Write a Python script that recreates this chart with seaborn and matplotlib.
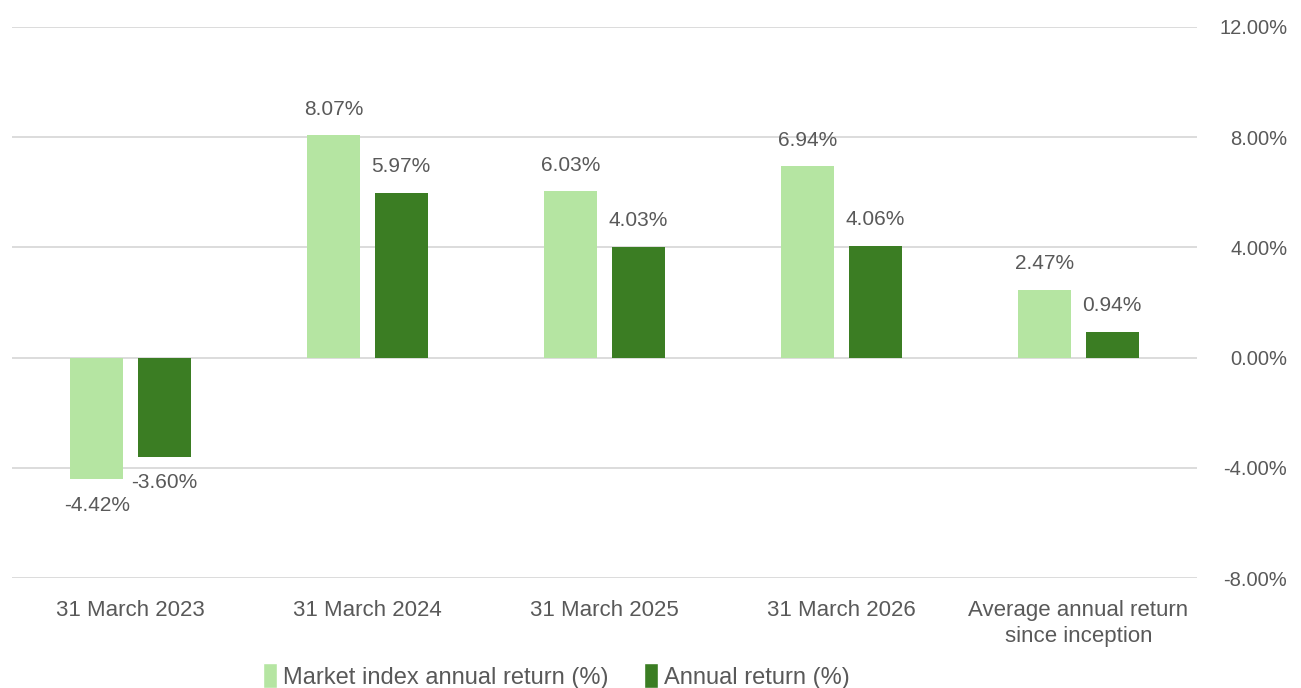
import pandas as pd
import matplotlib.pyplot as plt
import seaborn as sns
from matplotlib.patches import Patch

# chart data
categories = ["31 March 2023", "31 March 2024", "31 March 2025", "31 March 2026",
              "Average annual return\nsince inception"]
market_return = [-4.42, 8.07, 6.03, 6.94, 2.47]
annual_return = [-3.60, 5.97, 4.03, 4.06, 0.94]
series_names = ["Market index annual return (%)", "Annual return (%)"]
y_ticks = [-8, -4, 0, 4, 8, 12]

light_green = "#B5E5A2"
dark_green = "#3B7D23"
text_grey = "#595959"

sns.set_style("white")
plt.rcParams["font.family"] = ["Liberation Sans", "DejaVu Sans"]

df = pd.DataFrame({
    "category": categories * 2,
    "series": [series_names[0]] * len(categories) + [series_names[1]] * len(categories),
    "value": market_return + annual_return,
})

fig = plt.figure(figsize=(13.01, 6.88), dpi=100)
ax = fig.add_axes([12 / 1301, 1 - 578 / 688, 1185 / 1301, 551 / 688])

sns.barplot(data=df, x="category", y="value", hue="series", order=categories,
            hue_order=series_names, palette=[light_green, dark_green],
            width=0.57, gap=0.21, saturation=1, linewidth=0, legend=False, ax=ax)

# value labels: above positive bars, below negative ones
for cont in ax.containers:
    ax.bar_label(cont, labels=[f"{v:.2f}%" for v in cont.datavalues],
                 padding=12, fontsize=15, color=text_grey)

ax.set_ylim(-8, 12)
ax.set_xlim(-0.5, len(categories) - 0.5)
ax.set_yticks(y_ticks)
ax.set_yticklabels([f"{v:.2f}%" for v in y_ticks])
ax.yaxis.tick_right()
ax.grid(axis="y", color="#D9D9D9", linewidth=1.3)
ax.set_axisbelow(True)
for s in ax.spines.values():
    s.set_visible(False)
ax.tick_params(axis="y", length=0, pad=65, labelsize=14.5, labelcolor=text_grey)
for lbl in ax.get_yticklabels():
    lbl.set_horizontalalignment("right")
ax.tick_params(axis="x", length=0, pad=16, labelsize=16, labelcolor=text_grey)
for lbl in ax.get_xticklabels():
    lbl.set_linespacing(1.3)
ax.set_xlabel("")
ax.set_ylabel("")

handles = [Patch(facecolor=light_green), Patch(facecolor=dark_green)]
fig.legend(handles, series_names, loc="center", bbox_to_anchor=(556 / 1301, 12 / 688),
           ncol=2, frameon=False, handlelength=0.6, handleheight=1.2, handletextpad=0.25,
           columnspacing=1.5, prop={"size": 17}, labelcolor=text_grey)

fig.savefig("out.png", dpi=100)
